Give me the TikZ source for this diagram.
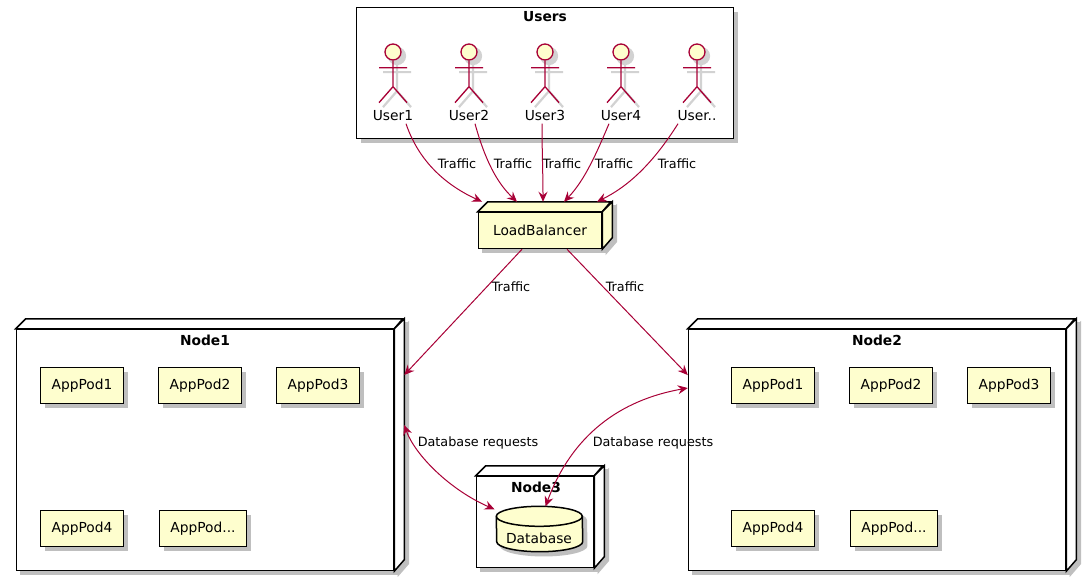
\documentclass[tikz,border=0pt]{standalone}
\usepackage{fontspec}
\setmainfont{DejaVu Sans}
\usepackage{tikz}
\usetikzlibrary{arrows.meta}
\usetikzlibrary{shadows}
\definecolor{umlred}{HTML}{A80036}
\definecolor{umlfill}{HTML}{FEFECE}
\definecolor{umlshadow}{gray}{0.75}
\tikzset{x=1pt, y=-1pt,
>={Stealth[length=10pt,width=9pt,inset=3.5pt]},
every node/.style={font=\fontsize{13.8}{15}\selectfont, inner sep=0pt},
boxshadow/.style={drop shadow={shadow xshift=4pt,shadow yshift=-4pt,fill=umlshadow,opacity=1}},
podbox/.style={draw, line width=1.5pt, fill=umlfill, minimum width=83, minimum height=36, boxshadow},
cube/.style={draw=black, fill=white, line width=1.5pt}, % Front face and sides
cubeshadow/.style={draw=umlshadow, fill=umlshadow, line width=1.5pt},
titletext/.style={font=\fontsize{13.8}{15}\selectfont\bfseries},
flowtext/.style={font=\fontsize{12.8}{14}\selectfont, text height=14pt, text depth=3pt},
flow/.style={draw=umlred, line width=1pt, ->}, % Every traffic edge
dbflow/.style={draw=umlred, line width=1pt, <->}}

% Box with depth: name, centre x, centre y, width, height, style, text
\newcommand{\cubeshape}[7]{
\node[#6, minimum width=#4, minimum height=#5] (#1) at (#2,#3) {#7};
\draw[#6, line join=miter] (#1.north west) -- ++(10,-10) -- ++(#4,0) -- (#1.north east) -- cycle;
\draw[#6, line join=miter] (#1.north east) -- ++(10,-10) -- ++(0,#5) -- (#1.south east) -- cycle;
}
\newcommand{\cubebox}[7]{
\begin{scope}[shift={(4,4)}]
\cubeshape{#1s}{#2}{#3}{#4}{#5}{cubeshadow}{}
\end{scope}
\cubeshape{#1}{#2}{#3}{#4}{#5}{#6}{#7}
}
% Stick figure: name, centre x, line colour, head colour, line width
\newcommand{\actorshape}[5]{
\node[circle, draw=#3, fill=#4, line width=#5, minimum size=16] (#1head) at (#2,52) {};
\draw[#3, line width=#5] (#1head.south) -- ++(0,26) coordinate (#1hip) -- ++(-14,16)
(#1hip) -- ++(14,16)
([shift={(-14,7)}]#1head.south) -- ([shift={(14,7)}]#1head.south);
}
% Drum: top ellipse, sides, bottom ellipse
\newcommand{\drumshape}[2]{
\draw[#2, line width=1.5pt] ([yshift=-10pt]#1.north west) arc[start angle=180, end angle=0, x radius=43pt, y radius=10pt]
-- ([yshift=10pt]#1.south east) arc[start angle=0, end angle=-180, x radius=43pt, y radius=10pt] -- cycle;
}

\begin{document}
\begin{tikzpicture}
\useasboundingbox (0,0) rectangle (1091,576);
% Users
\node[draw, line width=1.5pt, fill=white, minimum width=377, minimum height=131, boxshadow] (users) at (545,73) {};
\node[titletext] (userstitle) at (545,17) {Users};
\foreach \name/\cx/\txt in {user1/393/User1, user2/469/User2, user3/545/User3, user4/621/User4, user5/697/User..} {
\begin{scope}[shift={(4,4)}]
\actorshape{\name s}{\cx}{umlshadow!70}{umlshadow!70}{2.2pt}
\end{scope}
\actorshape{\name}{\cx}{umlred}{umlfill}{1.3pt}
\node[text height=14pt, text depth=3pt] (\name) at (\cx,115) {\txt};
}
% Load balancer
\cubebox{lb}{540}{230.5}{123}{36}{cube, fill=umlfill}{LoadBalancer}
% Worker nodes
\cubebox{node1}{205}{450}{377}{241}{cube}{}
\cubebox{node2}{877}{450}{377}{241}{cube}{}
\cubebox{node3}{535}{522}{117}{91}{cube}{}
\node[titletext] (node1title) at (205,340) {Node1};
\node[titletext] (node2title) at (877,340) {Node2};
\node[titletext] (node3title) at (536,487) {Node3};
\foreach \name/\cx/\cy/\txt in {a1/82/385.5/AppPod1, a2/200/385.5/AppPod2, a3/318/385.5/AppPod3, a4/82/528.5/AppPod4,
b1/773/385.5/AppPod1, b2/891/385.5/AppPod2, b3/1009/385.5/AppPod3, b4/773/528.5/AppPod4} {
\node[podbox] (\name) at (\cx,\cy) {\txt};
}
\node[podbox, minimum width=87] (a5) at (203,528.5) {AppPod...};
\node[podbox, minimum width=87] (b5) at (894,528.5) {AppPod...};
% Database
\node[minimum width=86, minimum height=45] (db) at (539.5,529) {};
\begin{scope}[shift={(4,4)}]
\node[minimum width=86, minimum height=45] (dbs) at (539.5,529) {};
\drumshape{dbs}{draw=umlshadow, fill=umlshadow}
\end{scope}
\drumshape{db}{draw=black, fill=umlfill}
\draw[black, line width=1.5pt] ([yshift=-10pt]db.north west) arc[start angle=180, end angle=360, x radius=43pt, y radius=10pt];
\node (dbtext) at (539,538) {Database};
% Edges
\draw[flow] ([xshift=13pt]user1.south) .. controls (420,165) and (450,187) .. ([shift={(-58,-10)}]lb.north);
\draw[flow] ([xshift=6pt]user2.south) .. controls (485,160) and (497,183) .. ([shift={(-23,-10)}]lb.north);
\draw[flow] ([xshift=-3pt]user3.south) .. controls (542,150) and (543,175) .. ([shift={(3,-10)}]lb.north);
\draw[flow] ([xshift=-12pt]user4.south) .. controls (597,152) and (585,180) .. ([shift={(24,-10)}]lb.north);
\draw[flow] ([xshift=-19pt]user5.south) .. controls (652,165) and (627,187) .. ([shift={(57,-10)}]lb.north);
\draw[flow] ([xshift=-18pt]lb.south) -- ([shift={(10,-75)}]node1.east);
\draw[flow] ([xshift=27pt]lb.south) -- ([yshift=75pt]node2.west);
\draw[dbflow] ([shift={(10,-25)}]node1.east) .. controls (415,455) and (450,490) .. ([shift={(-45,3)}]db.north);
\draw[dbflow] ([yshift=62pt]node2.west) .. controls (620,400) and (572,435) .. ([xshift=6pt]db.north);
% Edge labels
\foreach \name/\cx/\cy in {t1/457/163, t2/513/163, t3/562/163, t4/614/163, t5/677/163, t6/511/286, t7/625/286} {
\node[flowtext] (\name) at (\cx,\cy) {Traffic};
}
\node[flowtext] (dbreq1) at (478,441) {Database requests};
\node[flowtext] (dbreq2) at (653,441) {Database requests};
\end{tikzpicture}
\end{document}
